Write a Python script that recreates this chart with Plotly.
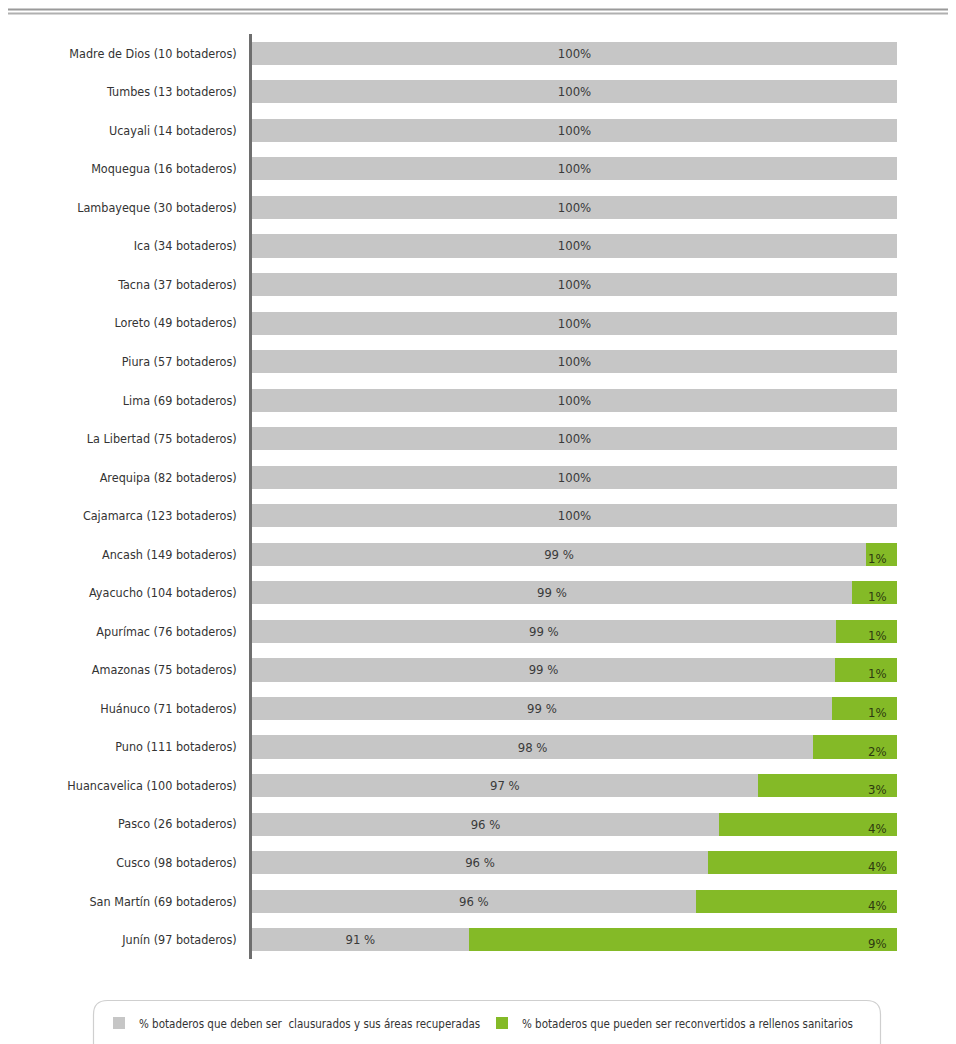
import plotly.graph_objects as go

regions = [
    "Madre de Dios (10 botaderos)", "Tumbes (13 botaderos)", "Ucayali (14 botaderos)",
    "Moquegua (16 botaderos)", "Lambayeque (30 botaderos)", "Ica (34 botaderos)",
    "Tacna (37 botaderos)", "Loreto (49 botaderos)", "Piura (57 botaderos)",
    "Lima (69 botaderos)", "La Libertad (75 botaderos)", "Arequipa (82 botaderos)",
    "Cajamarca (123 botaderos)", "Ancash (149 botaderos)", "Ayacucho (104 botaderos)",
    "Apurímac (76 botaderos)", "Amazonas (75 botaderos)", "Huánuco (71 botaderos)",
    "Puno (111 botaderos)", "Huancavelica (100 botaderos)", "Pasco (26 botaderos)",
    "Cusco (98 botaderos)", "San Martín (69 botaderos)", "Junín (97 botaderos)",
]
# bar lengths as drawn in the picture
gray_len = [100, 100, 100, 100, 100, 100, 100, 100, 100, 100, 100, 100, 100,
            95.2, 93.0, 90.5, 90.4, 89.9, 87.0, 78.4, 72.4, 70.7, 68.8, 33.6]
green_len = [0, 0, 0, 0, 0, 0, 0, 0, 0, 0, 0, 0, 0,
             4.8, 7.0, 9.5, 9.6, 10.1, 13.0, 21.6, 27.6, 29.3, 31.2, 66.4]
gray_labels = ["100%"] * 13 + ["99 %", "99 %", "99 %", "99 %", "99 %", "98 %",
                               "97 %", "96 %", "96 %", "96 %", "91 %"]
green_labels = [""] * 13 + ["1%", "1%", "1%", "1%", "1%", "2%", "3%", "4%", "4%", "4%", "9%"]

series_names = ["% botaderos que deben ser  clausurados y sus áreas recuperadas",
                "% botaderos que pueden ser reconvertidos a rellenos sanitarios"]

GRAY = "#C6C6C6"
GREEN = "#84BA27"
FONT = "DejaVu Sans Condensed, Liberation Sans Narrow, sans-serif"
FS = 12.5

# page is offset by the 8px body margin
OFF = 8
W, H = 956 - OFF, 1044 - OFF
ML, MR, MT, MB = 252 - OFF, 59, 34 - OFF, 85
PW, PH = W - ML - MR, H - MT - MB


def px(x):  # page pixel -> paper
    return (x - OFF - ML) / PW


def py(y):
    return (H - MB - (y - OFF)) / PH


fig = go.Figure()
fig.add_trace(go.Bar(
    y=regions, x=gray_len, orientation="h", name=series_names[0],
    marker=dict(color=GRAY, line=dict(width=0)),
    text=gray_labels, textposition="inside", insidetextanchor="middle",
    textangle=0, constraintext="none",
    insidetextfont=dict(family=FONT, size=13, color="#3a3a3a"),
    legend="legend",
))
fig.add_trace(go.Bar(
    y=regions, x=green_len, orientation="h", name=series_names[1],
    marker=dict(color=GREEN, line=dict(width=0)),
    legend="legend2",
))

annotations = []
for r, lab in zip(regions, green_labels):
    if lab:
        annotations.append(dict(
            x=100, y=r, xref="x", yref="y", text=lab, showarrow=False,
            xanchor="right", yanchor="middle", xshift=-8, yshift=-4,
            font=dict(family=FONT, size=13, color="#2e3a10"),
        ))

shapes = []
# double rule at top
for yy, col in [(9.5, "#9a9a9a"), (13.5, "#b0b0b0")]:
    shapes.append(dict(type="line", xref="paper", yref="paper",
                       x0=px(8), x1=px(956), y0=py(yy), y1=py(yy),
                       line=dict(color=col, width=2)))
# rounded legend box
x0, x1, y0, y1, r = 93.5, 880.5, 1000.5, 1070, 14
path = (f"M {px(x0)},{py(y1)} L {px(x0)},{py(y0 + r)} "
        f"Q {px(x0)},{py(y0)} {px(x0 + r)},{py(y0)} "
        f"L {px(x1 - r)},{py(y0)} "
        f"Q {px(x1)},{py(y0)} {px(x1)},{py(y0 + r)} "
        f"L {px(x1)},{py(y1)}")
shapes.append(dict(type="path", xref="paper", yref="paper", path=path,
                   line=dict(color="#cfcfcf", width=1.2)))

legend_common = dict(orientation="h", xanchor="left", yanchor="middle",
                     bgcolor="rgba(0,0,0,0)",
                     font=dict(family=FONT, size=11.5, color="#333333"),
                     itemclick=False, itemdoubleclick=False)

fig.update_layout(
    width=W, height=H, barmode="stack", bargap=0.4,
    margin=dict(l=ML, r=MR, t=MT, b=MB, pad=0, autoexpand=False),
    paper_bgcolor="white", plot_bgcolor="white",
    font=dict(family=FONT, size=FS, color="#333333"),
    xaxis=dict(range=[0, 100], visible=False, fixedrange=True),
    yaxis=dict(autorange="reversed", showgrid=False, zeroline=False,
               showline=True, linecolor="#6e6e6e", linewidth=2.5,
               ticks="", ticklabelstandoff=10,
               tickfont=dict(family=FONT, size=FS, color="#333333")),
    showlegend=True,
    legend=dict(x=px(99), y=py(1023), **legend_common),
    legend2=dict(x=px(482), y=py(1023), **legend_common),
    annotations=annotations, shapes=shapes,
)

fig.write_html("out.html")
